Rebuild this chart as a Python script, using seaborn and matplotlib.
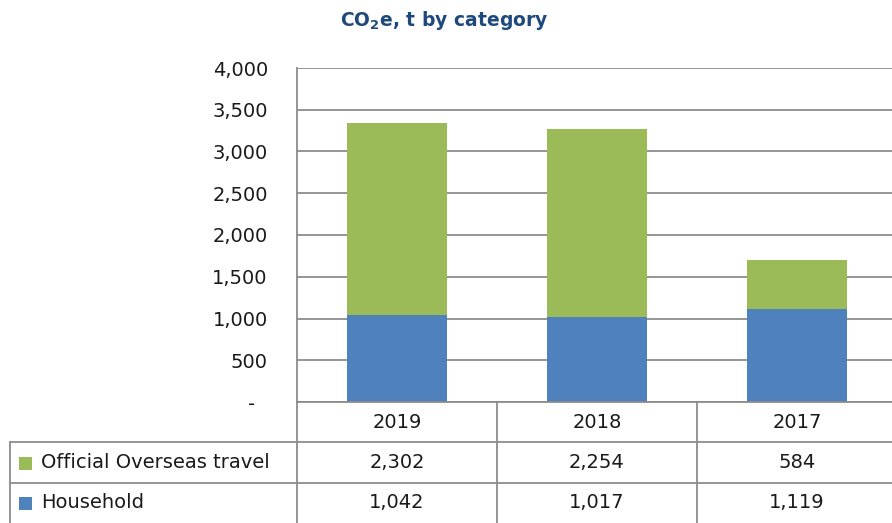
import matplotlib
matplotlib.use("Agg")
import matplotlib.pyplot as plt
import seaborn as sns
import pandas as pd
from matplotlib.lines import Line2D
from matplotlib.patches import Rectangle
from matplotlib.ticker import FuncFormatter
from matplotlib.transforms import blended_transform_factory

years = ["2019", "2018", "2017"]
household = [1042, 1017, 1119]
travel = [2302, 2254, 584]
series_names = ["Official Overseas travel", "Household"]
title = "CO$_\\mathbf{2}$e, t by category"

GREEN = "#9BBB59"
BLUE = "#4F81BD"
GRID = "#8C8C8C"
TITLE_C = "#1F497D"

sns.set_style("white")
plt.rcParams["font.family"] = ["DejaVu Sans"]
plt.rcParams["mathtext.default"] = "bf"
FS = 14

W, H = 892, 523
fig = plt.figure(figsize=(W / 100, H / 100), dpi=100)


def fx(px):
    return px / W


def fy(py):
    return 1 - py / H


ax = fig.add_axes([fx(297), fy(402), 600 / W, 334 / H])

df = pd.DataFrame({"year": years, "household": household, "travel": travel})
df["total"] = df["household"] + df["travel"]

sns.barplot(data=df, x="year", y="total", color=GREEN, width=0.5, ax=ax,
            saturation=1, edgecolor="none", order=years)
sns.barplot(data=df, x="year", y="household", color=BLUE, width=0.5, ax=ax,
            saturation=1, edgecolor="none", order=years)

ax.set_xlim(-0.5, 2.5)
ax.set_ylim(0, 4000)
ax.set_yticks(range(0, 4001, 500))
ax.yaxis.set_major_formatter(FuncFormatter(lambda v, p: "-  " if v == 0 else f"{int(v):,}"))
ax.set_xticks([])
ax.set_xlabel("")
ax.set_ylabel("")
ax.yaxis.grid(True, color=GRID, lw=1.3)
ax.set_axisbelow(True)
for s in ["top", "right"]:
    ax.spines[s].set_visible(False)
for s in ["left", "bottom"]:
    ax.spines[s].set_color(GRID)
    ax.spines[s].set_linewidth(1.3)
ax.tick_params(axis="y", length=0, pad=21, labelsize=FS, labelcolor="#1a1a1a")

# data table lines
def fline(xs, ys):
    fig.add_artist(Line2D([fx(x) for x in xs], [fy(y) for y in ys],
                          transform=fig.transFigure, color=GRID, lw=1.3))

fline([10, 892], [442, 442])
fline([10, 892], [483, 483])
fline([10, 10], [442, 523])
for xv in [297, 497, 697]:
    fline([xv, xv], [402, 523])

tr = blended_transform_factory(ax.transData, fig.transFigure)
for i, y in enumerate(years):
    ax.text(i, fy(422), y, transform=tr, ha="center", va="center", fontsize=FS,
            color="#1a1a1a", clip_on=False)
    ax.text(i, fy(463), f"{travel[i]:,}", transform=tr, ha="center", va="center",
            fontsize=FS, color="#1a1a1a", clip_on=False)
    ax.text(i, fy(503), f"{household[i]:,}", transform=tr, ha="center", va="center",
            fontsize=FS, color="#1a1a1a", clip_on=False)

for name, col, yc in [(series_names[0], GREEN, 463), (series_names[1], BLUE, 503)]:
    fig.add_artist(Rectangle((fx(19), fy(yc + 6.5)), 13 / W, 13 / H,
                             transform=fig.transFigure, color=col, lw=0))
    fig.text(fx(41), fy(yc), name, ha="left", va="center", fontsize=FS, color="#1a1a1a")

fig.text(fx(444), fy(20), title, ha="center", va="center", fontsize=13.5,
         fontweight="bold", color=TITLE_C)

fig.savefig("out.png", dpi=100)
